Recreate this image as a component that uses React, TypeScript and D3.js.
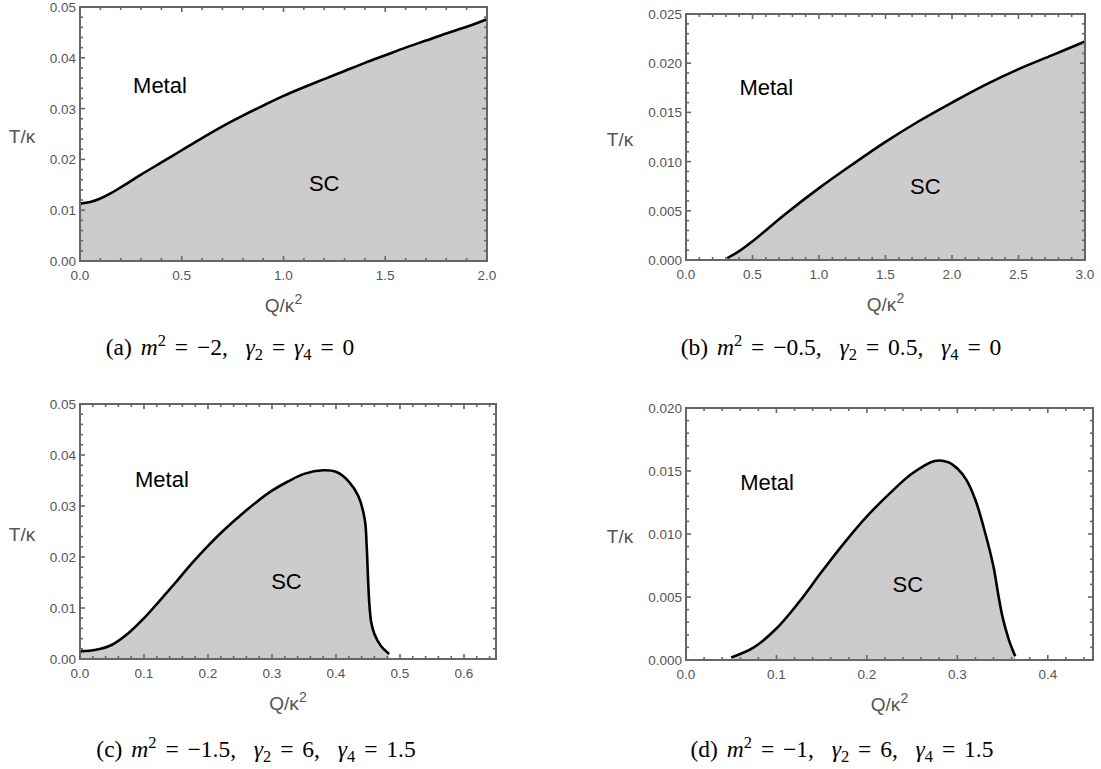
import React from 'react'
import * as d3 from 'd3'

// ---- data ----
// (a) m^2 = -2, g2 = g4 = 0
const qA = [0, 0.05, 0.1, 0.15, 0.2, 0.3, 0.4, 0.5, 0.6, 0.7, 0.8, 0.9, 1.0, 1.1, 1.2, 1.3, 1.4, 1.5, 1.6, 1.7, 1.8, 1.9, 2.0]
const tA = [0.0113, 0.0116, 0.0123, 0.0133, 0.0145, 0.0170, 0.0194, 0.0218, 0.0242, 0.0265, 0.0286, 0.0306, 0.0325, 0.0342, 0.0358, 0.0374, 0.0390, 0.0405, 0.0420, 0.0434, 0.0448, 0.0461, 0.0476]

// (b) m^2 = -0.5, g2 = 0.5, g4 = 0
const qB = [0.31, 0.4, 0.5, 0.75, 1.0, 1.25, 1.5, 1.75, 2.0, 2.25, 2.5, 2.75, 3.0]
const tB = [0.0002, 0.0009, 0.0019, 0.0047, 0.0073, 0.0097, 0.0120, 0.0141, 0.0160, 0.0178, 0.0194, 0.0208, 0.0222]

// (c) m^2 = -1.5, g2 = 6, g4 = 1.5
const qC = [0, 0.025, 0.05, 0.075, 0.1, 0.125, 0.15, 0.175, 0.2, 0.225, 0.25, 0.275, 0.3, 0.325, 0.35, 0.38, 0.4, 0.42, 0.435, 0.445, 0.448, 0.45, 0.452, 0.455, 0.46, 0.47, 0.483]
const tC = [0.0015, 0.0018, 0.0028, 0.0050, 0.0080, 0.0115, 0.0151, 0.0188, 0.0222, 0.0253, 0.0281, 0.0307, 0.0330, 0.0348, 0.0363, 0.0370, 0.0367, 0.0348, 0.0319, 0.0273, 0.0220, 0.0160, 0.0110, 0.0072, 0.0049, 0.0026, 0.0010]

// (d) m^2 = -1, g2 = 6, g4 = 1.5
const qD = [0.05, 0.075, 0.1, 0.125, 0.15, 0.175, 0.2, 0.225, 0.25, 0.275, 0.29, 0.3, 0.31, 0.32, 0.33, 0.34, 0.345, 0.35, 0.357, 0.364]
const tD = [0.0002, 0.0010, 0.0025, 0.0046, 0.0070, 0.0093, 0.0114, 0.0132, 0.0148, 0.0158, 0.0157, 0.0152, 0.0143, 0.0127, 0.0103, 0.0074, 0.0053, 0.0034, 0.0016, 0.0003]

// tick values
const xTicksA = [0, 0.5, 1.0, 1.5, 2.0]
const yTicksA = [0, 0.01, 0.02, 0.03, 0.04, 0.05]
const xTicksB = [0, 0.5, 1.0, 1.5, 2.0, 2.5, 3.0]
const yTicksB = [0, 0.005, 0.01, 0.015, 0.02, 0.025]
const xTicksC = [0, 0.1, 0.2, 0.3, 0.4, 0.5, 0.6]
const yTicksC = [0, 0.01, 0.02, 0.03, 0.04, 0.05]
const xTicksD = [0, 0.1, 0.2, 0.3, 0.4]
const yTicksD = [0, 0.005, 0.01, 0.015, 0.02]

// region labels [q, T]
const metalA = [0.393, 0.0331], scA = [1.2, 0.0138]
const metalB = [0.604, 0.0168], scB = [1.8, 0.0067]
const metalC = [0.128, 0.0338], scC = [0.3226, 0.0137]
const metalD = [0.0896, 0.01346], scD = [0.2452, 0.00543]

type Seg = { t: string, it?: boolean, sup?: boolean, sub?: boolean }
const captionA: Seg[] = [{ t: '(a) ' }, { t: 'm', it: true }, { t: '2', sup: true }, { t: ' = −2,  ' }, { t: 'γ', it: true }, { t: '2', sub: true }, { t: ' = ' }, { t: 'γ', it: true }, { t: '4', sub: true }, { t: ' = 0' }]
const captionB: Seg[] = [{ t: '(b) ' }, { t: 'm', it: true }, { t: '2', sup: true }, { t: ' = −0.5,  ' }, { t: 'γ', it: true }, { t: '2', sub: true }, { t: ' = 0.5,  ' }, { t: 'γ', it: true }, { t: '4', sub: true }, { t: ' = 0' }]
const captionC: Seg[] = [{ t: '(c) ' }, { t: 'm', it: true }, { t: '2', sup: true }, { t: ' = −1.5,  ' }, { t: 'γ', it: true }, { t: '2', sub: true }, { t: ' = 6,  ' }, { t: 'γ', it: true }, { t: '4', sub: true }, { t: ' = 1.5' }]
const captionD: Seg[] = [{ t: '(d) ' }, { t: 'm', it: true }, { t: '2', sup: true }, { t: ' = −1,  ' }, { t: 'γ', it: true }, { t: '2', sub: true }, { t: ' = 6,  ' }, { t: 'γ', it: true }, { t: '4', sub: true }, { t: ' = 1.5' }]

const GRAY = '#666'
const LABEL = '#555'
const SANS = 'Liberation Sans, Arial, sans-serif'
const SERIF = 'Liberation Serif, Times New Roman, serif'

function Panel(props: any) {
	const { q, t, xMax, yMax, xTicks, yTicks, xMinor, yMinor, xFmt, yFmt, box, tLabelX, metal, sc, caption, capX, capY } = props
	const [x0, y0, x1, y1] = box
	const x = d3.scaleLinear().domain([0, xMax]).range([x0, x1])
	const y = d3.scaleLinear().domain([0, yMax]).range([y1, y0])
	const pts: [number, number][] = q.map((v: number, i: number) => [v, t[i]])

	const line = d3.line<[number, number]>().x(d => x(d[0])).y(d => y(d[1])).curve(d3.curveCatmullRom.alpha(0.5))
	const area = d3.area<[number, number]>().x(d => x(d[0])).y0(y(0)).y1(d => y(d[1])).curve(d3.curveCatmullRom.alpha(0.5))

	// minor ticks, majors get the longer mark
	const minorX = d3.range(0, xMax + 1e-9, xMinor)
	const minorY = d3.range(0, yMax + 1e-9, yMinor)
	const fx = d3.format(xFmt), fy = d3.format(yFmt)
	const isMajor = (v: number, arr: number[]) => arr.some(a => Math.abs(a - v) < 1e-9)

	return (
		<g>
			<path d={area(pts) || ''} fill="#cccccc" />
			<path d={line(pts) || ''} fill="none" stroke="black" strokeWidth={2.6} />
			<rect x={x0} y={y0} width={x1 - x0} height={y1 - y0} fill="none" stroke={GRAY} strokeWidth={2} />
			{minorX.map((v, i) => {
				const len = isMajor(v, xTicks) ? 5 : 3
				return (
					<g key={'mx' + i}>
						<line x1={x(v)} x2={x(v)} y1={y1} y2={y1 - len} stroke={GRAY} strokeWidth={1.6} />
						<line x1={x(v)} x2={x(v)} y1={y0} y2={y0 + len} stroke={GRAY} strokeWidth={1.6} />
					</g>
				)
			})}
			{minorY.map((v, i) => {
				const len = isMajor(v, yTicks) ? 5 : 3
				return (
					<g key={'my' + i}>
						<line y1={y(v)} y2={y(v)} x1={x0} x2={x0 + len} stroke={GRAY} strokeWidth={1.6} />
						<line y1={y(v)} y2={y(v)} x1={x1} x2={x1 - len} stroke={GRAY} strokeWidth={1.6} />
					</g>
				)
			})}
			{xTicks.map((v: number) => (
				<text key={'xl' + v} x={x(v)} y={y1 + 19} textAnchor="middle" fontFamily={SANS} fontSize={13.5} fill={LABEL}>{fx(v)}</text>
			))}
			{yTicks.map((v: number) => (
				<text key={'yl' + v} x={x0 - 4} y={y(v) + 5} textAnchor="end" fontFamily={SANS} fontSize={13.5} fill={LABEL}>{fy(v)}</text>
			))}
			<text x={(x0 + x1) / 2} y={y1 + 51} textAnchor="middle" fontFamily={SANS} fontSize={19} fill={LABEL}>
				Q/κ<tspan dy={-8} fontSize={14}>2</tspan>
			</text>
			<text x={tLabelX} y={(y0 + y1) / 2 + 9} textAnchor="middle" fontFamily={SANS} fontSize={19} fill={LABEL}>T/κ</text>
			<text x={x(metal[0])} y={y(metal[1])} textAnchor="middle" fontFamily={SANS} fontSize={22} fill="black">Metal</text>
			<text x={x(sc[0])} y={y(sc[1])} textAnchor="middle" fontFamily={SANS} fontSize={22} fill="black">SC</text>
			<text x={capX} y={capY} textAnchor="middle" fontFamily={SERIF} fontSize={23.5} fill="black"
				style={{ wordSpacing: '3px', whiteSpace: 'pre' }}>
				{caption.map((s: Seg, i: number) => {
					const prev = caption[i - 1]
					let dy = 0
					if (prev && prev.sup) dy += 9
					if (prev && prev.sub) dy -= 5
					if (s.sup) dy -= 9
					if (s.sub) dy += 5
					return (
						<tspan key={i} dy={dy} fontStyle={s.it ? 'italic' : 'normal'} fontSize={s.sup || s.sub ? 16.5 : 23.5}>{s.t}</tspan>
					)
				})}
			</text>
		</g>
	)
}

export default function App() {
	return (
		<svg width={1101} height={769} style={{ position: 'absolute', left: 0, top: 0, background: 'white' }}>
			<Panel q={qA} t={tA} xMax={2} yMax={0.05} xTicks={xTicksA} yTicks={yTicksA} xMinor={0.1} yMinor={0.002}
				xFmt=".1f" yFmt=".2f" box={[80, 7, 487, 261]} tLabelX={22} metal={metalA} sc={scA}
				caption={captionA} capX={230} capY={355} />
			<Panel q={qB} t={tB} xMax={3} yMax={0.025} xTicks={xTicksB} yTicks={yTicksB} xMinor={0.1} yMinor={0.001}
				xFmt=".1f" yFmt=".3f" box={[686, 14, 1085, 260]} tLabelX={620} metal={metalB} sc={scB}
				caption={captionB} capX={841} capY={355} />
			<Panel q={qC} t={tC} xMax={0.65} yMax={0.05} xTicks={xTicksC} yTicks={yTicksC} xMinor={0.02} yMinor={0.002}
				xFmt=".1f" yFmt=".2f" box={[80, 404, 496, 659]} tLabelX={22} metal={metalC} sc={scC}
				caption={captionC} capX={256} capY={757} />
			<Panel q={qD} t={tD} xMax={0.45} yMax={0.02} xTicks={xTicksD} yTicks={yTicksD} xMinor={0.02} yMinor={0.001}
				xFmt=".1f" yFmt=".3f" box={[686, 408, 1093, 660]} tLabelX={620} metal={metalD} sc={scD}
				caption={captionD} capX={842} capY={757} />
		</svg>
	)
}
